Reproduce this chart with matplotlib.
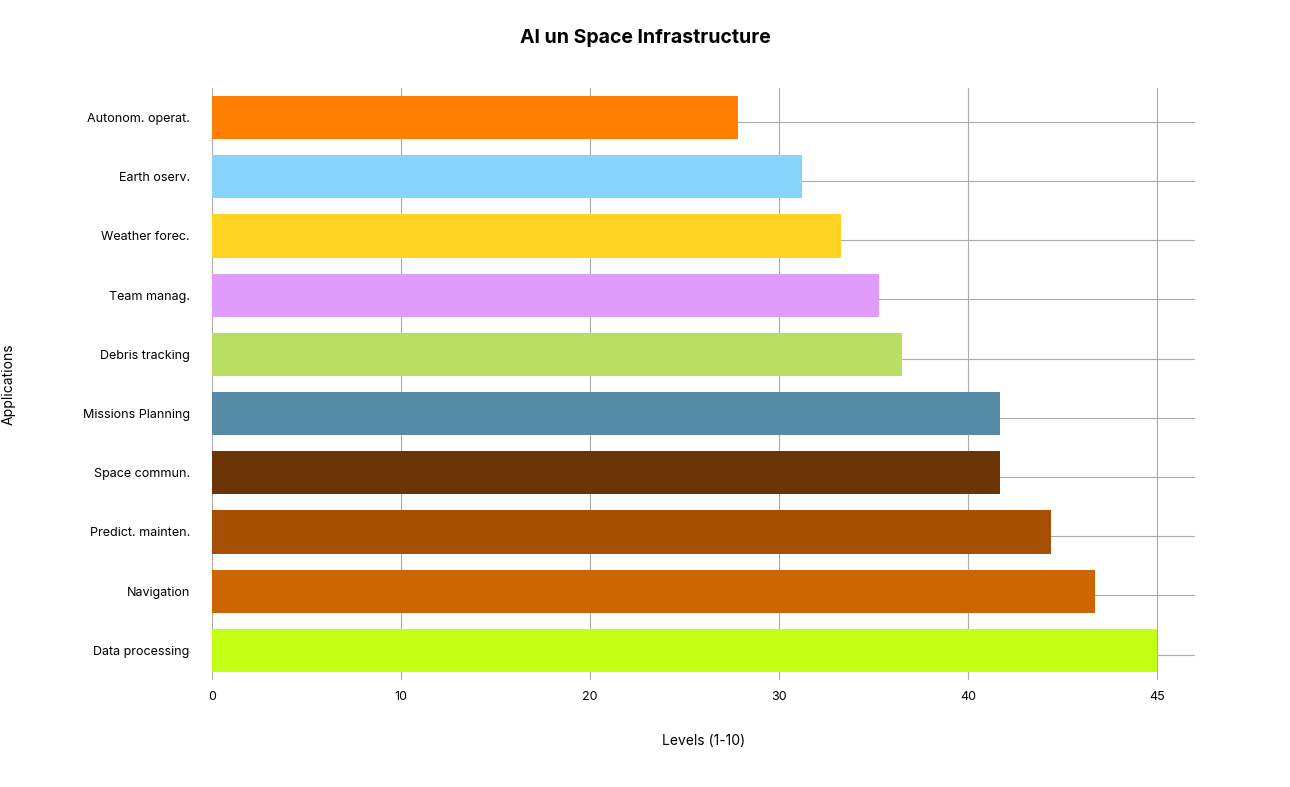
import matplotlib
matplotlib.use("Agg")
import matplotlib.pyplot as plt

categories = ["Autonom. operat.", "Earth oserv.", "Weather forec.", "Team manag.", "Debris tracking",
              "Missions Planning", "Space commun.", "Predict. mainten.", "Navigation", "Data processing"]
values = [27.8, 31.2, 33.3, 35.3, 36.5, 41.7, 41.7, 44.4, 46.7, 50.0]
colors = ["#ff7f00", "#87d4fc", "#ffd320", "#df9cfc", "#bade62", "#568ba6", "#6a3404", "#a64f02", "#cc6502", "#c2ff14"]
tick_pos = [0, 10, 20, 30, 40, 50]
tick_labels = ["0", "10", "20", "30", "40", "45"]

plt.rcParams['font.family'] = ['Inter', 'DejaVu Sans']
fig = plt.figure(figsize=(12.9, 7.87), dpi=100)
ax = fig.add_axes([212/1290, 1-680/787, (1195-212)/1290, (680-88)/787])
y = list(range(len(categories)))
ax.barh(y, values, height=0.73, color=colors, zorder=2)
ax.set_ylim(len(categories)-0.5, -0.5)
ax.set_xlim(0, 52)
ax.set_yticks(y)
ax.set_yticklabels(categories, fontsize=9)
ax.set_xticks(tick_pos)
ax.set_xticklabels(tick_labels, fontsize=9)
ax.tick_params(length=0, pad=16)
ax.tick_params(axis='x', pad=8)
for yy in y:
    ax.axhline(yy + 0.07, color="#aaaaaa", lw=0.8, zorder=1)
for t in tick_pos:
    ax.axvline(t, color="#aaaaaa", lw=0.8, zorder=1)
for s in ax.spines.values():
    s.set_visible(False)
ax.set_xlabel("Levels (1-10)", fontsize=10, labelpad=22)
ax.set_ylabel("Applications", fontsize=10, labelpad=48)
fig.text(0.5, 1-38/787, "AI un Space Infrastructure", ha="center", va="center", fontsize=14, fontweight="bold")
fig.savefig("out.png", dpi=100, facecolor="white")
